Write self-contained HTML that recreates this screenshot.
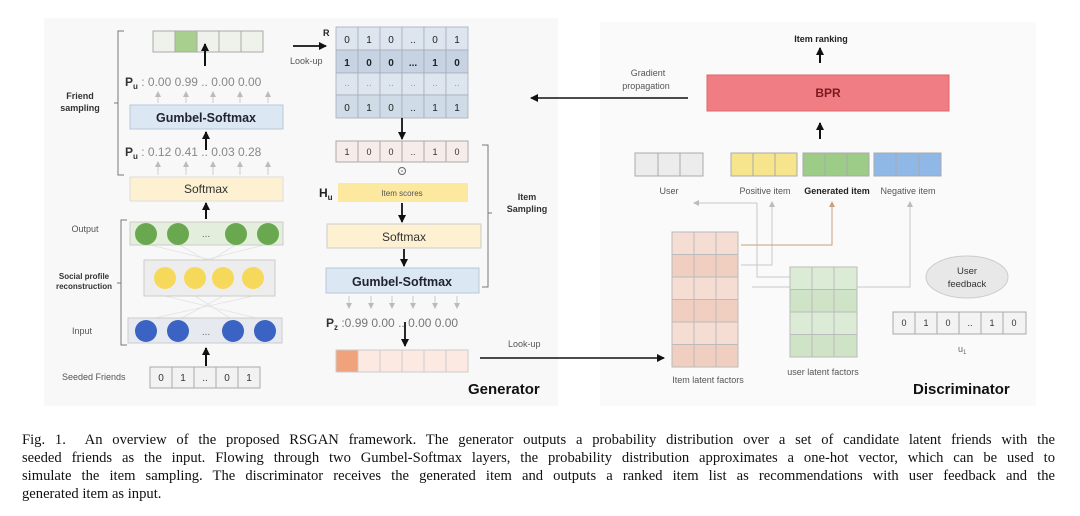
<!DOCTYPE html>
<html><head><meta charset="utf-8"><style>
body{margin:0;background:#fff;width:1080px;height:516px;overflow:hidden;position:relative;font-family:"Liberation Sans",sans-serif}
svg{position:absolute;left:0;top:0}
.cap{position:absolute;left:22px;width:1033px;font-family:"Liberation Serif",serif;font-size:14.6px;line-height:18px;color:#111;text-align:justify;text-align-last:justify;white-space:nowrap}
</style></head><body>
<svg width="1080" height="420" viewBox="0 0 1080 420" font-family="Liberation Sans, sans-serif">
<defs>
<marker id="ah" markerWidth="8" markerHeight="8" refX="7" refY="4" orient="auto" markerUnits="userSpaceOnUse"><path d="M0,0 L8,4 L0,8 z" fill="#111"/></marker>
<marker id="ag" markerWidth="6" markerHeight="6" refX="5" refY="3" orient="auto" markerUnits="userSpaceOnUse"><path d="M0,0 L6,3 L0,6 z" fill="#bbb"/></marker>
<marker id="ao" markerWidth="6" markerHeight="6" refX="5" refY="3" orient="auto" markerUnits="userSpaceOnUse"><path d="M0,0 L6,3 L0,6 z" fill="#c9a080"/></marker>
</defs>
<rect x="44" y="18" width="514" height="388" fill="#f8f8f8"/>
<rect x="600" y="22" width="436" height="384" fill="#fafafa"/>
<g stroke="#bbb" fill="none">
<!-- top green vector -->
</g>
<g stroke="#aaa" stroke-width="1">
<rect x="153" y="31" width="22" height="21" fill="#eef2ea"/><rect x="175" y="31" width="22" height="21" fill="#a9cf8e"/><rect x="197" y="31" width="22" height="21" fill="#eef2ea"/><rect x="219" y="31" width="22" height="21" fill="#eef2ea"/><rect x="241" y="31" width="22" height="21" fill="#eef2ea"/>
</g>
<line x1="205" y1="66" x2="205" y2="44" stroke="#111" stroke-width="2" marker-end="url(#ah)"/>
<text x="125" y="86" font-size="12" fill="#333"><tspan font-weight="bold">P</tspan><tspan font-size="8" font-weight="bold" dy="3">u</tspan><tspan dy="-3" fill="#888"> : 0.00  0.99  ..  0.00  0.00</tspan></text>
<g stroke="#ccc" marker-end="url(#ag)"><line x1="158" y1="103" x2="158" y2="92"/><line x1="186" y1="103" x2="186" y2="92"/><line x1="213" y1="103" x2="213" y2="92"/><line x1="240" y1="103" x2="240" y2="92"/><line x1="268" y1="103" x2="268" y2="92"/></g>
<rect x="130" y="105" width="153" height="24" fill="#dbe7f3" stroke="#b8c8d8"/>
<text x="206" y="122" font-size="12.5" font-weight="bold" text-anchor="middle" fill="#223">Gumbel-Softmax</text>
<line x1="206" y1="150" x2="206" y2="132" stroke="#111" stroke-width="2" marker-end="url(#ah)"/>
<text x="125" y="156" font-size="12" fill="#333"><tspan font-weight="bold">P</tspan><tspan font-size="8" font-weight="bold" dy="3">u</tspan><tspan dy="-3" fill="#888"> : 0.12  0.41  ..  0.03  0.28</tspan></text>
<g stroke="#ccc" marker-end="url(#ag)"><line x1="158" y1="175" x2="158" y2="162"/><line x1="186" y1="175" x2="186" y2="162"/><line x1="213" y1="175" x2="213" y2="162"/><line x1="240" y1="175" x2="240" y2="162"/><line x1="268" y1="175" x2="268" y2="162"/></g>
<rect x="130" y="177" width="153" height="24" fill="#fdf1d2" stroke="#ddd"/>
<text x="206" y="193" font-size="12" text-anchor="middle" fill="#333">Softmax</text>
<line x1="206" y1="219" x2="206" y2="203" stroke="#111" stroke-width="2" marker-end="url(#ah)"/>
<!-- brackets -->
<path d="M124,31 H118 V175 H124 M118,103 H114" stroke="#777" fill="none"/>
<text x="80" y="99" font-size="9" font-weight="bold" text-anchor="middle" fill="#333">Friend</text>
<text x="80" y="111" font-size="9" font-weight="bold" text-anchor="middle" fill="#333">sampling</text>
<path d="M127,220 H121 V345 H127 M121,283 H117" stroke="#777" fill="none"/>
<text x="84" y="279" font-size="8" font-weight="bold" text-anchor="middle" fill="#333">Social profile</text>
<text x="84" y="289" font-size="8" font-weight="bold" text-anchor="middle" fill="#333">reconstruction</text>
<text x="85" y="232" font-size="9" text-anchor="middle" fill="#555">Output</text>
<text x="82" y="334" font-size="9" text-anchor="middle" fill="#555">Input</text>
<!-- network -->
<g stroke="#e2e2e2" stroke-width="0.8">
<line x1="146" y1="244" x2="253" y2="270"/><line x1="268" y1="244" x2="165" y2="270"/><line x1="178" y1="244" x2="223" y2="270"/><line x1="237" y1="244" x2="195" y2="270"/>
<line x1="165" y1="296" x2="265" y2="320"/><line x1="253" y1="296" x2="146" y2="320"/><line x1="195" y1="296" x2="233" y2="320"/><line x1="223" y1="296" x2="178" y2="320"/>
</g>
<rect x="130" y="222" width="153" height="23" fill="#e4eedd" stroke="#ccc"/>
<g fill="#6aa84f"><circle cx="146" cy="234" r="11"/><circle cx="178" cy="234" r="11"/><circle cx="236" cy="234" r="11"/><circle cx="268" cy="234" r="11"/></g>
<text x="206" y="237" font-size="10" text-anchor="middle" fill="#666">...</text>
<rect x="144" y="260" width="131" height="36" fill="#ededed" stroke="#ccc"/>
<g fill="#f6d95a"><circle cx="165" cy="278" r="11"/><circle cx="195" cy="278" r="11"/><circle cx="223" cy="278" r="11"/><circle cx="253" cy="278" r="11"/></g>
<rect x="128" y="318" width="154" height="25" fill="#e6eaf0" stroke="#ccc"/>
<g fill="#3b63c4"><circle cx="146" cy="331" r="11"/><circle cx="178" cy="331" r="11"/><circle cx="233" cy="331" r="11"/><circle cx="265" cy="331" r="11"/></g>
<text x="206" y="335" font-size="10" text-anchor="middle" fill="#666">...</text>
<line x1="206" y1="366" x2="206" y2="348" stroke="#111" stroke-width="2" marker-end="url(#ah)"/>
<text x="62" y="380" font-size="9" fill="#555">Seeded Friends</text>
<g stroke="#aaa" fill="#f2f2f2"><rect x="150" y="367" width="22" height="21"/><rect x="172" y="367" width="22" height="21"/><rect x="194" y="367" width="22" height="21"/><rect x="216" y="367" width="22" height="21"/><rect x="238" y="367" width="22" height="21"/></g>
<g font-size="10" text-anchor="middle" fill="#333"><text x="161" y="381">0</text><text x="183" y="381">1</text><text x="205" y="381">..</text><text x="227" y="381">0</text><text x="249" y="381">1</text></g>
<!-- R matrix -->
<text x="323" y="36" font-size="9" font-weight="bold" fill="#222">R</text>
<line x1="293" y1="46" x2="326" y2="46" stroke="#111" stroke-width="1.8" marker-end="url(#ah)"/>
<text x="290" y="64" font-size="9" fill="#555">Look-up</text>
<g stroke="#aab" stroke-width="0.8">
<g fill="#dde6ef"><rect x="336" y="27" width="22" height="23"/><rect x="358" y="27" width="22" height="23"/><rect x="380" y="27" width="22" height="23"/><rect x="402" y="27" width="22" height="23"/><rect x="424" y="27" width="22" height="23"/><rect x="446" y="27" width="22" height="23"/></g>
<g fill="#c6d3e2"><rect x="336" y="50" width="22" height="23"/><rect x="358" y="50" width="22" height="23"/><rect x="380" y="50" width="22" height="23"/><rect x="402" y="50" width="22" height="23"/><rect x="424" y="50" width="22" height="23"/><rect x="446" y="50" width="22" height="23"/></g>
<g fill="#dde6ef"><rect x="336" y="73" width="22" height="22"/><rect x="358" y="73" width="22" height="22"/><rect x="380" y="73" width="22" height="22"/><rect x="402" y="73" width="22" height="22"/><rect x="424" y="73" width="22" height="22"/><rect x="446" y="73" width="22" height="22"/></g>
<g fill="#cfdbe7"><rect x="336" y="95" width="22" height="23"/><rect x="358" y="95" width="22" height="23"/><rect x="380" y="95" width="22" height="23"/><rect x="402" y="95" width="22" height="23"/><rect x="424" y="95" width="22" height="23"/><rect x="446" y="95" width="22" height="23"/></g>
</g>
<g font-size="10" text-anchor="middle" fill="#222">
<text x="347" y="43">0</text><text x="369" y="43">1</text><text x="391" y="43">0</text><text x="413" y="43">..</text><text x="435" y="43">0</text><text x="457" y="43">1</text>
<g font-weight="bold"><text x="347" y="66">1</text><text x="369" y="66">0</text><text x="391" y="66">0</text><text x="413" y="66">...</text><text x="435" y="66">1</text><text x="457" y="66">0</text></g>
<g fill="#999"><text x="347" y="86">..</text><text x="369" y="86">..</text><text x="391" y="86">..</text><text x="413" y="86">..</text><text x="435" y="86">..</text><text x="457" y="86">..</text></g>
<text x="347" y="111">0</text><text x="369" y="111">1</text><text x="391" y="111">0</text><text x="413" y="111">..</text><text x="435" y="111">1</text><text x="457" y="111">1</text>
</g>
<line x1="402" y1="118" x2="402" y2="139" stroke="#111" stroke-width="1.8" marker-end="url(#ah)"/>
<g stroke="#aaa" fill="#f6ecea"><rect x="336" y="141" width="22" height="21"/><rect x="358" y="141" width="22" height="21"/><rect x="380" y="141" width="22" height="21"/><rect x="402" y="141" width="22" height="21"/><rect x="424" y="141" width="22" height="21"/><rect x="446" y="141" width="22" height="21"/></g>
<g font-size="9" text-anchor="middle" fill="#333"><text x="347" y="155">1</text><text x="369" y="155">0</text><text x="391" y="155">0</text><text x="413" y="155">..</text><text x="435" y="155">1</text><text x="457" y="155">0</text></g>
<circle cx="402" cy="171" r="3.5" fill="none" stroke="#666"/><circle cx="402" cy="171" r="0.8" fill="#666"/>
<text x="319" y="197" font-size="12" font-weight="bold" fill="#222">H<tspan font-size="8" dy="3">u</tspan></text>
<rect x="338" y="183" width="130" height="19" fill="#fde8a0"/>
<text x="402" y="196" font-size="8" text-anchor="middle" fill="#555">Item scores</text>
<line x1="402" y1="203" x2="402" y2="222" stroke="#111" stroke-width="1.8" marker-end="url(#ah)"/>
<rect x="327" y="224" width="154" height="24" fill="#fdf1d2" stroke="#ccc"/>
<text x="404" y="241" font-size="12" text-anchor="middle" fill="#333">Softmax</text>
<line x1="404" y1="249" x2="404" y2="266" stroke="#111" stroke-width="1.8" marker-end="url(#ah)"/>
<rect x="326" y="268" width="153" height="25" fill="#dbe7f3" stroke="#b8c8d8"/>
<text x="402" y="286" font-size="12.5" font-weight="bold" text-anchor="middle" fill="#223">Gumbel-Softmax</text>
<g stroke="#ccc" marker-end="url(#ag)"><line x1="349" y1="296" x2="349" y2="308"/><line x1="371" y1="296" x2="371" y2="308"/><line x1="392" y1="296" x2="392" y2="308"/><line x1="413" y1="296" x2="413" y2="308"/><line x1="435" y1="296" x2="435" y2="308"/><line x1="457" y1="296" x2="457" y2="308"/></g>
<text x="326" y="327" font-size="12" fill="#333"><tspan font-weight="bold">P</tspan><tspan font-size="8" font-weight="bold" dy="3">z</tspan><tspan dy="-3" fill="#777"> :0.99  0.00  ..  0.00  0.00</tspan></text>
<line x1="405" y1="322" x2="405" y2="346" stroke="#111" stroke-width="1.8" marker-end="url(#ah)"/>
<g stroke="#ccc" fill="#fbe9e2"><rect x="336" y="350" width="22" height="22" fill="#f0a27a"/><rect x="358" y="350" width="22" height="22"/><rect x="380" y="350" width="22" height="22"/><rect x="402" y="350" width="22" height="22"/><rect x="424" y="350" width="22" height="22"/><rect x="446" y="350" width="22" height="22"/></g>
<path d="M482,145 H488 V287 H482 M488,213 H492" stroke="#777" fill="none"/>
<text x="527" y="200" font-size="9" font-weight="bold" text-anchor="middle" fill="#333">Item</text>
<text x="527" y="212" font-size="9" font-weight="bold" text-anchor="middle" fill="#333">Sampling</text>
<text x="468" y="394" font-size="15" font-weight="bold" fill="#111">Generator</text>
<text x="508" y="347" font-size="9" fill="#555">Look-up</text>
<line x1="480" y1="358" x2="664" y2="358" stroke="#111" stroke-width="1.6" marker-end="url(#ah)"/>
<!-- right panel -->
<text x="821" y="42" font-size="9" font-weight="bold" text-anchor="middle" fill="#222">Item ranking</text>
<line x1="820" y1="63" x2="820" y2="48" stroke="#111" stroke-width="2" marker-end="url(#ah)"/>
<rect x="707" y="75" width="242" height="36" fill="#f07d84" stroke="#d66"/>
<text x="828" y="97" font-size="12" font-weight="bold" text-anchor="middle" fill="#7a1a1f">BPR</text>
<text x="648" y="76" font-size="9" text-anchor="middle" fill="#555">Gradient</text>
<text x="646" y="89" font-size="9" text-anchor="middle" fill="#555">propagation</text>
<line x1="688" y1="98" x2="531" y2="98" stroke="#111" stroke-width="1.6" marker-end="url(#ah)"/>
<line x1="820" y1="139" x2="820" y2="123" stroke="#111" stroke-width="2" marker-end="url(#ah)"/>
<g stroke="#aaa"><g fill="#ececec"><rect x="635" y="153" width="23" height="23"/><rect x="658" y="153" width="22" height="23"/><rect x="680" y="153" width="23" height="23"/></g>
<g fill="#f6e58d"><rect x="731" y="153" width="22" height="23"/><rect x="753" y="153" width="22" height="23"/><rect x="775" y="153" width="22" height="23"/></g>
<g fill="#9ccc88"><rect x="803" y="153" width="22" height="23"/><rect x="825" y="153" width="22" height="23"/><rect x="847" y="153" width="22" height="23"/></g>
<g fill="#8fb8e6"><rect x="874" y="153" width="22" height="23"/><rect x="896" y="153" width="23" height="23"/><rect x="919" y="153" width="22" height="23"/></g></g>
<g font-size="9" text-anchor="middle" fill="#555"><text x="669" y="194">User</text><text x="765" y="194">Positive item</text><text x="837" y="194" font-weight="bold" fill="#222">Generated item</text><text x="908" y="194">Negative item</text></g>
<!-- connectors -->
<g stroke="#c8c8c8" fill="none">
<path d="M757,203 H694" marker-end="url(#ag)"/>
<path d="M757,203 V277 H790"/>
<path d="M741,265 H772 V202" marker-end="url(#ag)"/>
<path d="M752,287 H790"/>
<path d="M857,287 H910 V202" marker-end="url(#ag)"/>
</g>
<path d="M741,245 H832 V202" stroke="#c9a080" fill="none" marker-end="url(#ao)"/>
<g stroke="#bbb"><g fill="#f5ddd3">
<rect x="672" y="232" width="22" height="22.5"/><rect x="694" y="232" width="22" height="22.5"/><rect x="716" y="232" width="22" height="22.5"/>
<rect x="672" y="254.5" width="22" height="22.5" fill="#f0cfc1"/><rect x="694" y="254.5" width="22" height="22.5" fill="#f0cfc1"/><rect x="716" y="254.5" width="22" height="22.5" fill="#f0cfc1"/>
<rect x="672" y="277" width="22" height="22.5"/><rect x="694" y="277" width="22" height="22.5"/><rect x="716" y="277" width="22" height="22.5"/>
<rect x="672" y="299.5" width="22" height="22.5" fill="#f0cfc1"/><rect x="694" y="299.5" width="22" height="22.5" fill="#f0cfc1"/><rect x="716" y="299.5" width="22" height="22.5" fill="#f0cfc1"/>
<rect x="672" y="322" width="22" height="22.5"/><rect x="694" y="322" width="22" height="22.5"/><rect x="716" y="322" width="22" height="22.5"/>
<rect x="672" y="344.5" width="22" height="22.5" fill="#f0cfc1"/><rect x="694" y="344.5" width="22" height="22.5" fill="#f0cfc1"/><rect x="716" y="344.5" width="22" height="22.5" fill="#f0cfc1"/>
</g><g fill="#dcebd6">
<rect x="790" y="267" width="22" height="22.5"/><rect x="812" y="267" width="22" height="22.5"/><rect x="834" y="267" width="23" height="22.5"/>
<rect x="790" y="289.5" width="22" height="22.5" fill="#cfe3c7"/><rect x="812" y="289.5" width="22" height="22.5" fill="#cfe3c7"/><rect x="834" y="289.5" width="23" height="22.5" fill="#cfe3c7"/>
<rect x="790" y="312" width="22" height="22.5"/><rect x="812" y="312" width="22" height="22.5"/><rect x="834" y="312" width="23" height="22.5"/>
<rect x="790" y="334.5" width="22" height="22.5" fill="#cfe3c7"/><rect x="812" y="334.5" width="22" height="22.5" fill="#cfe3c7"/><rect x="834" y="334.5" width="23" height="22.5" fill="#cfe3c7"/>
</g></g>
<text x="708" y="383" font-size="9" text-anchor="middle" fill="#555">Item latent factors</text>
<text x="823" y="375" font-size="9" text-anchor="middle" fill="#555">user latent factors</text>
<ellipse cx="967" cy="277" rx="41" ry="21" fill="#e8e8e8" stroke="#ccc"/>
<text x="967" y="274" font-size="9.5" text-anchor="middle" fill="#333">User</text>
<text x="967" y="287" font-size="9.5" text-anchor="middle" fill="#333">feedback</text>
<g stroke="#aaa" fill="#f3f3f3"><rect x="893" y="312" width="22" height="22"/><rect x="915" y="312" width="22" height="22"/><rect x="937" y="312" width="22" height="22"/><rect x="959" y="312" width="22" height="22"/><rect x="981" y="312" width="22" height="22"/><rect x="1003" y="312" width="23" height="22"/></g>
<g font-size="9" text-anchor="middle" fill="#333"><text x="904" y="326">0</text><text x="926" y="326">1</text><text x="948" y="326">0</text><text x="970" y="326">..</text><text x="992" y="326">1</text><text x="1014" y="326">0</text></g>
<text x="958" y="352" font-size="9" fill="#666">u<tspan font-size="6" dy="2">1</tspan></text>
<text x="913" y="394" font-size="15" font-weight="bold" fill="#111">Discriminator</text>
</svg>
<div class="cap" style="top:431px">Fig. 1.&nbsp; An overview of the proposed RSGAN framework. The generator outputs a probability distribution over a set of candidate latent friends with the</div>
<div class="cap" style="top:449px">seeded friends as the input. Flowing through two Gumbel-Softmax layers, the probability distribution approximates a one-hot vector, which can be used to</div>
<div class="cap" style="top:467px">simulate the item sampling. The discriminator receives the generated item and outputs a ranked item list as recommendations with user feedback and the</div>
<div class="cap" style="top:485px;text-align-last:left">generated item as input.</div>
</body></html>
